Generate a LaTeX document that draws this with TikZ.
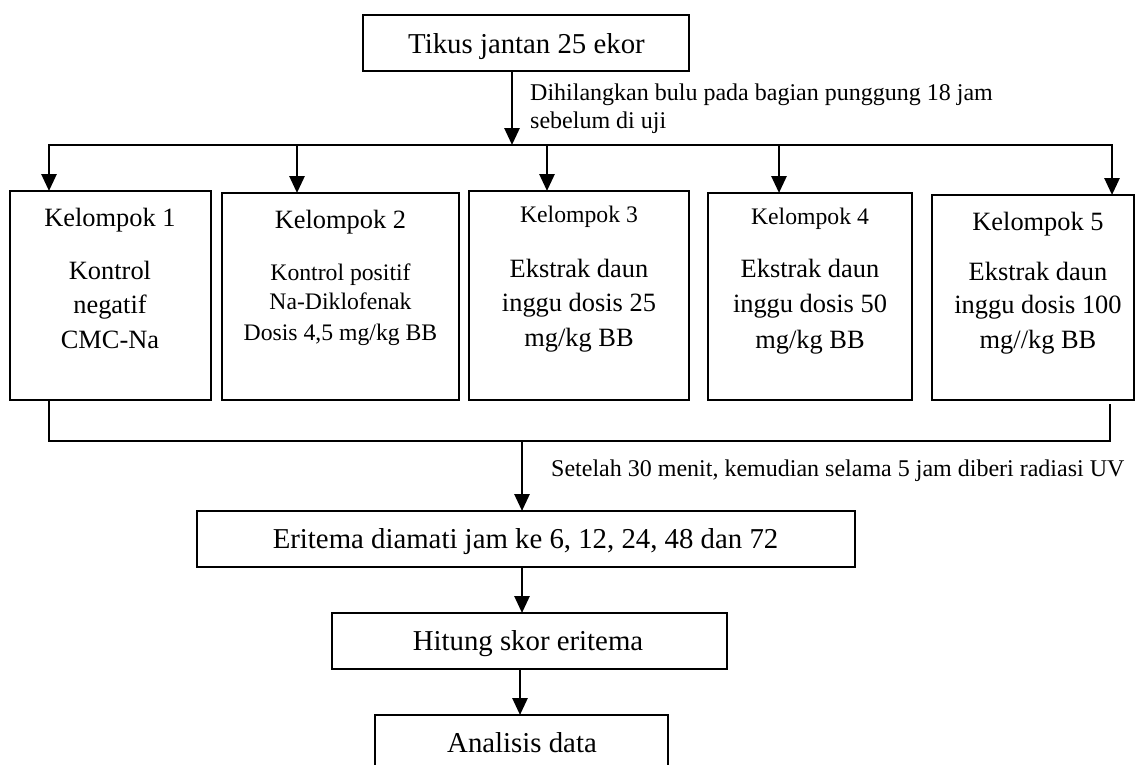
\documentclass[tikz,border=0pt]{standalone}
\usepackage{fontspec}
\setmainfont{Liberation Serif}
\usetikzlibrary{arrows.meta}
\begin{document}
\begin{tikzpicture}[x=1pt,y=-1pt,
  box/.style={draw, line width=1.3pt, inner sep=0pt, outer sep=0pt},
  conn/.style={line width=2.8pt, line join=miter},
  tipa/.style={-{Triangle[length=17pt 0 1,width=15pt 0 1]}},
  big/.style={font=\fontsize{28.8}{34}\selectfont, inner sep=0pt, anchor=base},
  mid/.style={font=\fontsize{26.4}{30}\selectfont, inner sep=0pt, anchor=base},
  sml/.style={font=\fontsize{23.7}{28}\selectfont, inner sep=0pt, anchor=base},
  lab/.style={font=\fontsize{24}{28}\selectfont, inner sep=0pt, anchor=base west}]
\useasboundingbox (0,0) rectangle (1135,764);
\clip (0,0) rectangle (1135,764);
\fill[white] (0,0) rectangle (1135,764);

% boxes
\node[box, minimum width=326pt, minimum height=56pt] (top) at (526,43) {};
\node[box, minimum width=201pt, minimum height=209pt] (k1) at (110.5,295.5) {};
\node[box, minimum width=237pt, minimum height=207pt] (k2) at (340.5,296.5) {};
\node[box, minimum width=220pt, minimum height=209pt] (k3) at (579,295.5) {};
\node[box, minimum width=204pt, minimum height=207pt] (k4) at (810,296.5) {};
\node[box, minimum width=202pt, minimum height=205pt] (k5) at (1033,297.5) {};
\node[box, minimum width=658pt, minimum height=56pt] (eri) at (526,539) {};
\node[box, minimum width=395pt, minimum height=56pt] (hit) at (529.5,641) {};
\node[box, minimum width=293pt, minimum height=56pt] (ana) at (521.5,743) {};

% texts
\node[big] (topt) at (526.5,53) {Tikus jantan 25 ekor};

\node[mid] (k1a) at (110,226) {Kelompok 1};
\node[mid] (k1b) at (110,279) {Kontrol};
\node[mid] (k1c) at (110,313) {negatif};
\node[mid] (k1d) at (110,348) {CMC-Na};

\node[mid] (k2a) at (340.5,228) {Kelompok 2};
\node[sml] (k2b) at (340.5,280) {Kontrol positif};
\node[sml] (k2c) at (340.5,309) {Na-Diklofenak};
\node[sml] (k2d) at (340.5,340) {Dosis 4,5 mg/kg BB};

\node[sml] (k3a) at (579,222) {Kelompok 3};
\node[mid] (k3b) at (579,277) {Ekstrak daun};
\node[mid] (k3c) at (579,311) {inggu dosis 25};
\node[mid] (k3d) at (579,346) {mg/kg BB};

\node[sml] (k4a) at (810,224) {Kelompok 4};
\node[mid] (k4b) at (810,277) {Ekstrak daun};
\node[mid] (k4c) at (810,312) {inggu dosis 50};
\node[mid] (k4d) at (810,348) {mg/kg BB};

\node[mid] (k5a) at (1038,230) {Kelompok 5};
\node[mid] (k5b) at (1038,280) {Ekstrak daun};
\node[mid] (k5c) at (1038,313) {inggu dosis 100};
\node[mid] (k5d) at (1038,348) {mg//kg BB};

\node[big] (erit) at (525.5,548) {Eritema diamati jam ke 6, 12, 24, 48 dan 72};
\node[big] (hitt) at (528,650) {Hitung skor eritema};
\node[big] (anat) at (522,752) {Analisis data};

\node[lab] (lab1a) at (530,100) {Dihilangkan bulu pada bagian punggung 18 jam};
\node[lab] (lab1b) at (530,128) {sebelum di uji};
\node[lab] (lab2) at (551,476) {Setelah 30 menit, kemudian selama 5 jam diberi radiasi UV};

% connector coordinates
\coordinate (t0) at (512,145);
\coordinate (t1) at (49,145);
\coordinate (t2) at (297,145);
\coordinate (t3) at (547,145);
\coordinate (t4) at (779,145);
\coordinate (t5) at (1112,145);
\coordinate (s1) at (49,441);
\coordinate (s0) at (522,441);
\coordinate (s5) at (1110,441);
\coordinate (s5e) at (1110,404);
\coordinate (e0) at (520,669);

% top to bus
\draw[conn, tipa] (top.south -| t0) -- (t0);
\draw[conn, {Triangle[length=17pt 0 1,width=15pt 0 1]}-{Triangle[length=17pt 0 1,width=15pt 0 1]}]
  (t1 |- k1.north) -- (t1) -- (t5) -- (t5 |- k5.north);
\draw[conn, tipa] (t2) -- (t2 |- k2.north);
\draw[conn, tipa] (t3) -- (t3 |- k3.north);
\draw[conn, tipa] (t4) -- (t4 |- k4.north);

% lower bus
\draw[conn] (k1.south -| s1) -- (s1) -- (s5) -- (s5e);
\draw[conn, tipa] (s0) -- (s0 |- eri.north);
\draw[conn, tipa] (eri.south -| s0) -- (s0 |- hit.north);
\draw[conn, tipa] (hit.south -| e0) -- (e0 |- ana.north);
\end{tikzpicture}
\end{document}
